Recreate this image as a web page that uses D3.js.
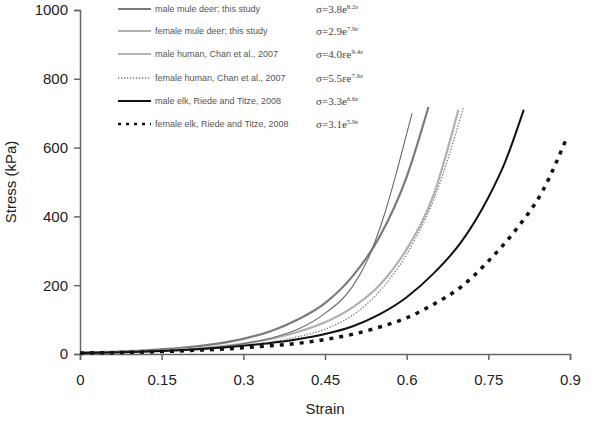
<!DOCTYPE html>
<html><head><meta charset="utf-8">
<script src="https://cdn.jsdelivr.net/npm/d3@7"></script>
<style>body{margin:0;background:#fff}svg{display:block}</style>
</head><body>
<svg id="c" width="600" height="423"></svg>
<script>
const xTicks = [0, 0.15, 0.3, 0.45, 0.6, 0.75, 0.9];
const xTickLabels = ["0", "0.15", "0.3", "0.45", "0.6", "0.75", "0.9"];
const yTicks = [0, 200, 400, 600, 800, 1000];

const strainMMD = [0, 0.1, 0.2, 0.3, 0.35, 0.4, 0.45, 0.5, 0.55, 0.6, 0.64];
const stressMMD = [4, 9, 20, 44, 66, 100, 148, 225, 340, 515, 718];
const strainFMD = [0, 0.1, 0.2, 0.3, 0.35, 0.4, 0.45, 0.5, 0.55, 0.6, 0.65, 0.695];
const stressFMD = [3, 6, 14, 30, 44, 64, 92, 135, 200, 305, 465, 710];
const strainMH = [0, 0.1, 0.2, 0.3, 0.35, 0.4, 0.45, 0.5, 0.53, 0.56, 0.58, 0.6, 0.61];
const stressMH = [3, 6, 14, 30, 46, 72, 118, 195, 280, 410, 520, 640, 700];
const strainFH = [0, 0.1, 0.2, 0.3, 0.35, 0.4, 0.45, 0.5, 0.55, 0.6, 0.65, 0.705];
const stressFH = [3, 5, 11, 24, 35, 50, 72, 112, 182, 290, 450, 720];
const strainME = [0, 0.1, 0.2, 0.3, 0.35, 0.4, 0.45, 0.5, 0.55, 0.6, 0.65, 0.7, 0.75, 0.78, 0.815];
const stressME = [3, 6, 12, 24, 32, 43, 58, 80, 115, 165, 235, 325, 455, 555, 710];
const strainFE = [0, 0.1, 0.2, 0.3, 0.35, 0.4, 0.45, 0.5, 0.55, 0.6, 0.65, 0.7, 0.75, 0.8, 0.85, 0.895];
const stressFE = [3, 5, 10, 18, 24, 31, 42, 57, 78, 105, 145, 195, 270, 360, 475, 632];

const seriesNames = ["male mule deer; this study", "female mule deer; this study", "male human, Chan et al., 2007", "female human, Chan et al., 2007", "male elk, Riede and Titze, 2008", "female elk, Riede and Titze, 2008"];
const eqBase = ["σ=3.8e", "σ=2.9e", "σ=4.0εe", "σ=5.5εe", "σ=3.3e", "σ=3.1e"];
const eqExp = ["8.2ε", "7.9ε", "9.4ε", "7.6ε", "6.6ε", "5.9ε"];

const styles = [
  {stroke: "#7a7a7a", width: 2.2, dash: null},
  {stroke: "#b0b0b0", width: 2.2, dash: null},
  {stroke: "#6a6a6a", width: 1.1, dash: null},
  {stroke: "#777", width: 1.3, dash: "1.3,1.7"},
  {stroke: "#111", width: 2, dash: null},
  {stroke: "#111", width: 3.5, dash: "4,6"}
];
const seriesX = [strainMMD, strainFMD, strainMH, strainFH, strainME, strainFE];
const seriesY = [stressMMD, stressFMD, stressMH, stressFH, stressME, stressFE];

const svg = d3.select("#c");
const x = d3.scaleLinear().domain([0, 0.9]).range([80, 570]);
const y = d3.scaleLinear().domain([0, 1000]).range([354, 10]);
const axisColor = "#666";

const ya = svg.append("g").attr("transform", "translate(80,0)")
  .call(d3.axisLeft(y).tickValues(yTicks).tickSize(6).tickPadding(6).tickFormat(d3.format("d")));
const xa = svg.append("g").attr("transform", "translate(0,354)")
  .call(d3.axisBottom(x).tickValues(xTicks).tickSize(6).tickPadding(14).tickFormat((d, i) => xTickLabels[i]));
[ya, xa].forEach(g => {
  g.select(".domain").attr("stroke", axisColor).attr("stroke-width", 1.5);
  g.selectAll(".tick line").attr("stroke", axisColor).attr("stroke-width", 1.5);
  g.selectAll("text").attr("fill", "#222").style("font-family", "Liberation Sans, Arial, sans-serif").style("font-size", "15px");
});

svg.append("text").attr("transform", "translate(16,182) rotate(-90)").attr("text-anchor", "middle")
  .style("font-family", "Liberation Sans, Arial, sans-serif").style("font-size", "15px").attr("fill", "#222").text("Stress (kPa)");
svg.append("text").attr("x", 325).attr("y", 414).attr("text-anchor", "middle")
  .style("font-family", "Liberation Sans, Arial, sans-serif").style("font-size", "15px").attr("fill", "#222").text("Strain");

const line = d3.line().x(d => x(d[0])).y(d => y(d[1])).curve(d3.curveMonotoneX);
seriesX.forEach((sx, i) => {
  const pts = sx.map((v, j) => [v, seriesY[i][j]]);
  const p = svg.append("path").datum(pts).attr("d", line).attr("fill", "none")
    .attr("stroke", styles[i].stroke).attr("stroke-width", styles[i].width);
  if (styles[i].dash) p.attr("stroke-dasharray", styles[i].dash);
});

const rowY = [9, 31, 54, 78, 101, 124];
seriesNames.forEach((name, i) => {
  const g = svg.append("g");
  const l = g.append("line").attr("x1", 118).attr("x2", 151).attr("y1", rowY[i]).attr("y2", rowY[i])
    .attr("stroke", styles[i].stroke).attr("stroke-width", Math.min(styles[i].width, 2.5));
  if (styles[i].dash) l.attr("stroke-dasharray", i === 5 ? "3,5" : styles[i].dash);
  g.append("text").attr("x", 155).attr("y", rowY[i] + 3).attr("fill", "#555")
    .style("font-family", "Liberation Sans, Arial, sans-serif").style("font-size", "9px").text(name);
  const t = g.append("text").attr("x", 316).attr("y", rowY[i] + 4).attr("fill", "#444")
    .style("font-family", "Liberation Serif, Times New Roman, serif").style("font-size", "11px");
  t.append("tspan").text(eqBase[i]);
  t.append("tspan").attr("dy", -4).style("font-size", "7px").text(eqExp[i]);
});
</script>
</body></html>
